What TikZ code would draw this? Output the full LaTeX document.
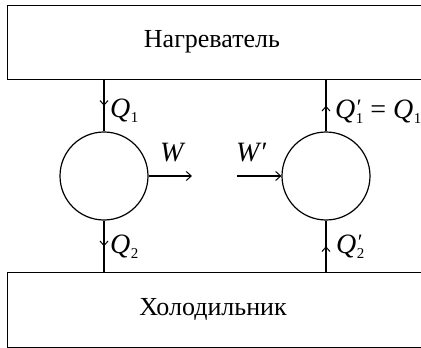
\documentclass[tikz,border=0pt]{standalone}
\usepackage{fontspec}
\setmainfont{Liberation Serif}
\usetikzlibrary{arrows.meta,decorations.markings}
\newcommand{\Qs}[1]{\textit{Q}\kern0.5pt\raisebox{-0.2em}{\fontsize{15}{15}\selectfont #1}}
\newcommand{\Qp}[1]{\textit{Q}\makebox[0pt][l]{\raisebox{0.12em}{\fontsize{22}{22}\selectfont\kern1.5pt′}}\kern0.5pt\raisebox{-0.2em}{\fontsize{15}{15}\selectfont #1}}
\tikzset{
  ln/.style={line width=1.2pt},
  tank/.style={ln, draw, rectangle, inner sep=0pt},
  engine/.style={ln, draw, circle, minimum size=88pt, inner sep=0pt},
  lab/.style={font=\fontsize{28}{32}\selectfont, inner sep=0pt},
  ttl/.style={font=\fontsize{26}{30}\selectfont, inner sep=0pt},
  midarrow/.style={decoration={markings, mark=at position 0.5 with {\arrow{Straight Barb[length=4.5pt,width=8pt,line width=1pt]}}}, postaction={decorate}},
  warrow/.style={ln, -{Straight Barb[length=5pt,width=9pt,line width=1pt]}}
}
\begin{document}
\begin{tikzpicture}[x=1pt,y=-1pt]
\clip (0,0) rectangle (421,348);
\node[tank, minimum width=424pt, minimum height=74pt, anchor=north west] (heat) at (7,5) {};
\node[ttl] (heatt) at (212,42) {Нагреватель};
\node[tank, minimum width=424pt, minimum height=75pt, anchor=north west] (cold) at (7,272) {};
\node[ttl] (coldt) at (213,309) {Холодильник};
\node[engine] (c1) at (104,176) {};
\node[engine] (c2) at (326,176) {};
\draw[ln, midarrow] (heat.south -| c1) -- (c1.north);
\draw[ln, midarrow] (c1.south) -- (cold.north -| c1);
\draw[ln, midarrow] (c2.north) -- (heat.south -| c2);
\draw[ln, midarrow] (cold.north -| c2) -- (c2.south);
\coordinate (wend) at (192,176);
\coordinate (wstart) at (237,176);
\draw[warrow] (c1.east) -- (wend);
\draw[warrow] (wstart) -- (c2.west);
\node[lab, anchor=base west] (q1) at (110,117) {\Qs{1}};
\node[lab, anchor=base west] (q2) at (110,253) {\Qs{2}};
\node[lab, anchor=base west] (q1p) at (335,118) {\Qp{1} = \Qs{1}};
\node[lab, anchor=base west] (q2p) at (336,253) {\Qp{2}};
\node[lab, anchor=base west] (w) at (160,161) {\textit{W}};
\node[lab, anchor=base west] (wp) at (236,161) {\textit{W}′};
\end{tikzpicture}
\end{document}
